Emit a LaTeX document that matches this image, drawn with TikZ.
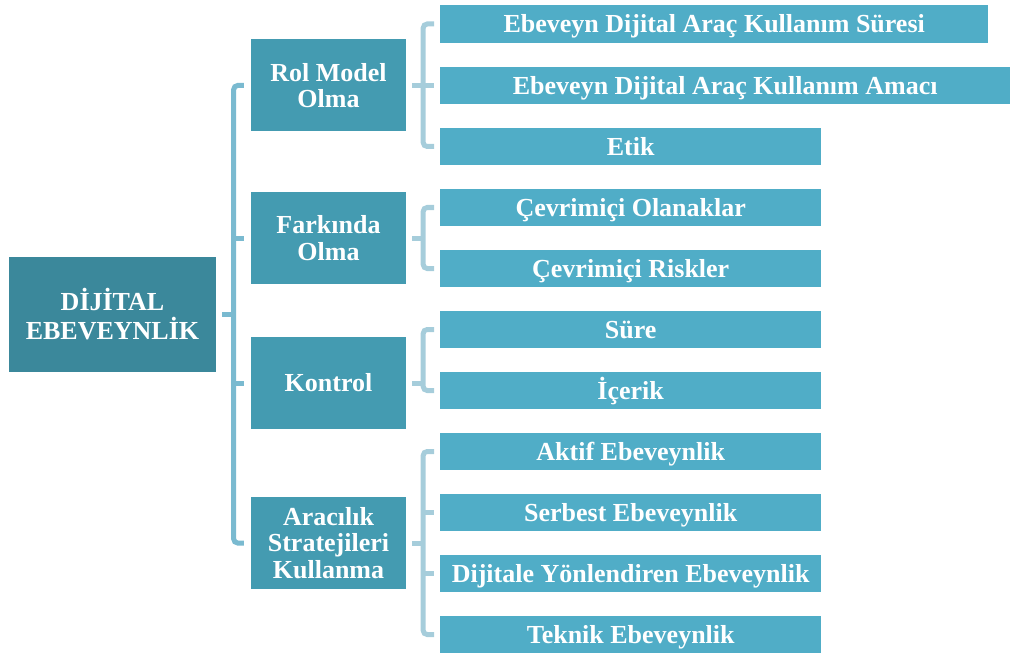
\documentclass[tikz,border=0pt]{standalone}
\usepackage{fontspec}
\setmainfont{Liberation Serif}
\usetikzlibrary{calc}
\definecolor{rootc}{RGB}{59,136,155}
\definecolor{midc}{RGB}{68,155,177}
\definecolor{leafc}{RGB}{80,173,199}
\definecolor{rootl}{RGB}{122,186,208}
\definecolor{leafl}{RGB}{166,205,219}
\begin{document}
\begin{tikzpicture}[x=1pt,y=-1pt,
  rootbox/.style={fill=rootc, minimum width=207pt, minimum height=115pt, inner sep=0pt,
    text=white, align=center, font=\bfseries\fontsize{26}{29}\selectfont},
  midbox/.style={fill=midc, minimum width=155pt, minimum height=92pt, inner sep=0pt,
    text=white, align=center, font=\bfseries\fontsize{26}{26.5}\selectfont},
  leafbox/.style={fill=leafc, anchor=west, minimum height=37.5pt, inner sep=0pt,
    text height=17.2pt, text depth=0pt, text=white, font=\bfseries\fontsize{26}{28}\selectfont},
  rootline/.style={draw=rootl, line width=5pt, rounded corners=4pt},
  leafline/.style={draw=leafl, line width=5pt, rounded corners=4pt}]
\useasboundingbox (0,0) rectangle (1010,658);

% root
\node[rootbox] (root) at (112.5,314.5) {DİJİTAL\\EBEVEYNLİK};

% middle level
\node[midbox] (rol)  at (328.5,85.5) {Rol Model\\Olma};
\node[midbox] (fark) at (328.5,238) {Farkında\\Olma};
\node[midbox] (kon)  at (328.5,383) {Kontrol};
\node[midbox] (arac) at (328.5,543) {Aracılık\\Stratejileri\\Kullanma};

% leaves
\node[leafbox, minimum width=548pt] (l1)  at (440,24)    {Ebeveyn Dijital Araç Kullanım Süresi};
\node[leafbox, minimum width=570pt] (l2)  at (440,85.5)  {Ebeveyn Dijital Araç Kullanım Amacı};
\node[leafbox, minimum width=381pt] (l3)  at (440,146.5) {Etik};
\node[leafbox, minimum width=381pt] (l4)  at (440,207.5) {Çevrimiçi Olanaklar};
\node[leafbox, minimum width=381pt] (l5)  at (440,268.5) {Çevrimiçi Riskler};
\node[leafbox, minimum width=381pt] (l6)  at (440,329.5) {Süre};
\node[leafbox, minimum width=381pt] (l7)  at (440,390.5) {İçerik};
\node[leafbox, minimum width=381pt] (l8)  at (440,451.5) {Aktif Ebeveynlik};
\node[leafbox, minimum width=381pt] (l9)  at (440,512.5) {Serbest Ebeveynlik};
\node[leafbox, minimum width=381pt] (l10) at (440,573.5) {Dijitale Yönlendiren Ebeveynlik};
\node[leafbox, minimum width=381pt] (l11) at (440,634.5) {Teknik Ebeveynlik};

% root bracket
\coordinate (bx) at ($(root.east)+(17.5,0)$);
\draw[rootline] ($(root.east)+(6,0)$) -- (bx);
\draw[rootline] ($(rol.west)+(-7,0)$) -- (bx |- rol.west) -- (bx |- arac.west) -- ($(arac.west)+(-7,0)$);
\draw[rootline] (bx |- fark.west) -- ($(fark.west)+(-7,0)$);
\draw[rootline] (bx |- kon.west) -- ($(kon.west)+(-7,0)$);

% leaf brackets
\coordinate (lx) at ($(rol.east)+(17,0)$);
% Rol Model Olma
\draw[leafline] ($(rol.east)+(6,0)$) -- (lx |- rol.east);
\draw[leafline] ($(l1.west)+(-6,0)$) -- (lx |- l1.west) -- (lx |- l3.west) -- ($(l3.west)+(-6,0)$);
\draw[leafline] (lx |- l2.west) -- ($(l2.west)+(-6,0)$);
% Farkinda Olma
\draw[leafline] ($(fark.east)+(6,0)$) -- (lx |- fark.east);
\draw[leafline] ($(l4.west)+(-6,0)$) -- (lx |- l4.west) -- (lx |- l5.west) -- ($(l5.west)+(-6,0)$);
% Kontrol
\draw[leafline] ($(kon.east)+(6,0)$) -- (lx |- kon.east);
\draw[leafline] ($(l6.west)+(-6,0)$) -- (lx |- l6.west) -- (lx |- l7.west) -- ($(l7.west)+(-6,0)$);
% Aracilik
\draw[leafline] ($(arac.east)+(6,0)$) -- (lx |- arac.east);
\draw[leafline] ($(l8.west)+(-6,0)$) -- (lx |- l8.west) -- (lx |- l11.west) -- ($(l11.west)+(-6,0)$);
\draw[leafline] (lx |- l9.west) -- ($(l9.west)+(-6,0)$);
\draw[leafline] (lx |- l10.west) -- ($(l10.west)+(-6,0)$);
\end{tikzpicture}
\end{document}
